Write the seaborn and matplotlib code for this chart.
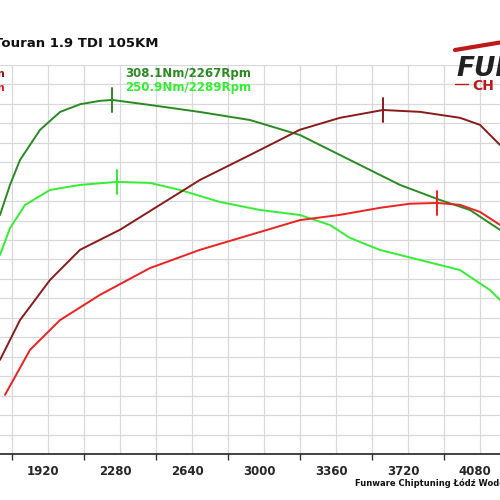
import numpy as np
import matplotlib
matplotlib.use("Agg")
from matplotlib import pyplot as plt
import seaborn as sns

# engine speed [rpm] and readings taken off the dyno sheet
rpm_tq_tuned = [1705, 1755, 1805, 1905, 2005, 2105, 2205, 2267, 2455, 2705, 2955, 3205, 3455, 3705, 3905, 4055, 4205]
tq_tuned = [227.8, 248.8, 266.2, 287.2, 299.7, 305.1, 307.5, 308.1, 304.6, 299.7, 294.1, 283.6, 266.2, 248.8, 238.3, 231.3, 217.4]

rpm_tq_stock = [1705, 1755, 1830, 1955, 2105, 2289, 2455, 2605, 2805, 3005, 3205, 3355, 3455, 3605, 3805, 4005, 4155, 4205]
tq_stock = [199.9, 218.7, 234.8, 245.3, 248.8, 250.9, 250.2, 245.3, 236.9, 231.3, 227.8, 220.8, 211.8, 203.4, 196.4, 189.4, 175.4, 168.5]

rpm_pw_tuned = [1705, 1805, 1955, 2105, 2305, 2505, 2705, 2955, 3205, 3405, 3620, 3805, 4005, 4105, 4205]
pw_tuned = [62.8, 73.5, 84.3, 92.4, 97.8, 104.5, 111.2, 117.9, 124.7, 127.9, 130.0, 129.5, 127.9, 126.0, 120.6]

rpm_pw_stock = [1730, 1855, 2005, 2205, 2455, 2705, 2955, 3205, 3405, 3605, 3755, 3890, 4005, 4105, 4205]
pw_stock = [53.4, 65.5, 73.5, 80.3, 87.5, 92.4, 96.4, 100.4, 101.8, 103.7, 104.8, 105.0, 104.5, 102.6, 99.1]

x_labels = [1920, 2280, 2640, 3000, 3360, 3720, 4080]

C_TQ_T, C_TQ_S = "#2a8a22", "#33ee33"
C_PW_T, C_PW_S = "#8b1a1a", "#ee2020"

sns.set_style("white")
fig = plt.figure(figsize=(5, 5), dpi=100)
ax = fig.add_axes([0, 0.092, 1, 0.778])
ax2 = ax.twinx()
ax2.set_position(ax.get_position())

ax.set_xlim(1705, 4205)
ax.set_ylim(61, 332.5)
ax2.set_ylim(37.5, 142.1)

# grid
for x in np.arange(1765, 4205, 180):
    ax.axvline(x, color="#d8d8d8", lw=0.9, zorder=0)
for y in np.arange(61, 332.6, 13.575):
    ax.axhline(y, color="#d8d8d8", lw=0.9, zorder=0)

sns.lineplot(x=rpm_tq_tuned, y=tq_tuned, ax=ax, color=C_TQ_T, lw=1.4)
sns.lineplot(x=rpm_tq_stock, y=tq_stock, ax=ax, color=C_TQ_S, lw=1.4)
sns.lineplot(x=rpm_pw_tuned, y=pw_tuned, ax=ax2, color=C_PW_T, lw=1.4)
sns.lineplot(x=rpm_pw_stock, y=pw_stock, ax=ax2, color=C_PW_S, lw=1.4)

# peak markers
for a, xs, ys, c, d in [(ax, rpm_tq_tuned, tq_tuned, C_TQ_T, 8.5),
                        (ax, rpm_tq_stock, tq_stock, C_TQ_S, 8.5),
                        (ax2, rpm_pw_tuned, pw_tuned, C_PW_T, 3.3),
                        (ax2, rpm_pw_stock, pw_stock, C_PW_S, 3.3)]:
    i = int(np.argmax(ys))
    a.plot([xs[i], xs[i]], [ys[i] - d, ys[i] + d], color=c, lw=1.4)

ax.set_xticks(x_labels)
ax.set_xticklabels([str(v) for v in x_labels], fontsize=8.5, fontweight="bold")
ax.set_xticks(np.arange(1765, 4205, 360), minor=True)
ax.tick_params(axis="x", which="major", length=0, pad=8)
ax.tick_params(axis="x", which="minor", length=4, width=1, color="#333333", direction="out", bottom=True)
ax.set_yticks([])
ax2.set_yticks([])
for s in ["top", "left", "right"]:
    ax.spines[s].set_visible(False)
    ax2.spines[s].set_visible(False)
ax.spines["bottom"].set_color("#222222")
ax.spines["bottom"].set_linewidth(1.2)
ax2.spines["bottom"].set_visible(False)

# texts
fig.text(-0.012, 0.906, "Touran 1.9 TDI 105KM", fontsize=9.5, fontweight="bold", color="#111111")
fig.text(-0.045, 0.846, "Rpm", fontsize=8, fontweight="bold", color=C_PW_T)
fig.text(-0.045, 0.818, "Rpm", fontsize=8, fontweight="bold", color=C_PW_S)
fig.text(0.25, 0.846, "308.1Nm/2267Rpm", fontsize=8.5, fontweight="bold", color=C_TQ_T)
fig.text(0.25, 0.818, "250.9Nm/2289Rpm", fontsize=8.5, fontweight="bold", color=C_TQ_S)
fig.text(0.71, 0.028, "Funware Chiptuning Łódź Wodorowa", fontsize=6, fontweight="bold", color="#111111")

# logo fragment
fig.text(0.912, 0.848, "FUN", fontsize=19, fontweight="bold", style="italic", color="#222222")
fig.text(0.945, 0.82, "CH", fontsize=10, fontweight="bold", color="#c01818")
fig.add_artist(plt.Line2D([0.91, 0.935], [0.833, 0.833], color="#c01818", lw=1))
fig.add_artist(plt.Line2D([0.91, 1.0], [0.9, 0.915], color="#c01818", lw=3))

fig.savefig("out.png", dpi=100)
